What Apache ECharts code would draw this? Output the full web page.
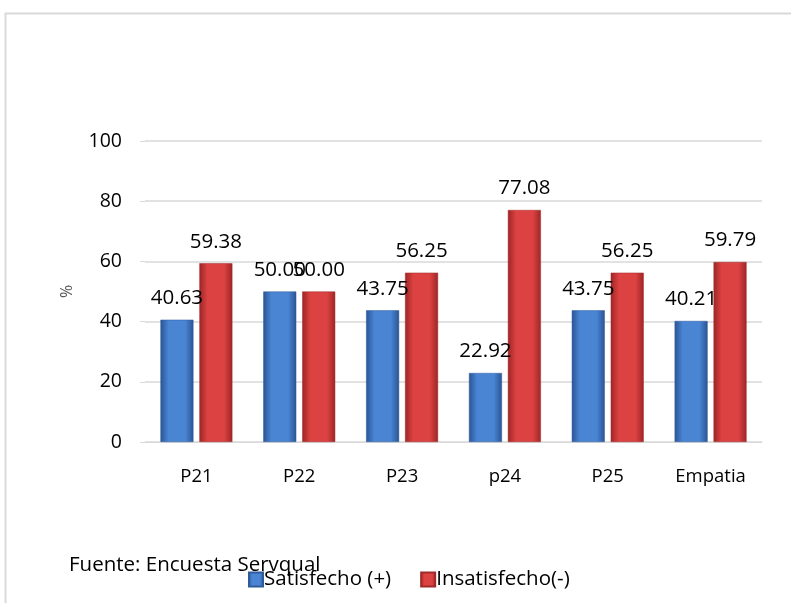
<!DOCTYPE html>
<html>
<head>
<meta charset="utf-8">
<script src="https://cdn.jsdelivr.net/npm/echarts@6/dist/echarts.min.js"></script>
<style>
html,body{margin:0;padding:0;background:#fff;}
#chart{width:791px;height:603px;}
</style>
</head>
<body>
<div id="chart"></div>
<script>
var categories = ['P21', 'P22', 'P23', 'p24', 'P25', 'Empatia'];
var satisfecho = [40.63, 50.00, 43.75, 22.92, 43.75, 40.21];
var insatisfecho = [59.38, 50.00, 56.25, 77.08, 56.25, 59.79];
var seriesNames = ['Satisfecho (+)', 'Insatisfecho(-)'];
var yTicks = [0, 20, 40, 60, 80, 100];

var FONT = '"Open Sans", "Noto Sans", sans-serif';

function grad(edge, mid) {
  return new echarts.graphic.LinearGradient(0, 0, 1, 0, [
    {offset: 0, color: edge},
    {offset: 0.25, color: mid},
    {offset: 0.75, color: mid},
    {offset: 1, color: edge}
  ]);
}

var chart = echarts.init(document.getElementById('chart'), null, {renderer: 'canvas'});
chart.setOption({
  backgroundColor: '#ffffff',
  animation: false,
  graphic: [
    {type: 'rect', shape: {x: 5.5, y: 13.5, width: 800, height: 620},
     style: {fill: 'none', stroke: '#d9d9d9', lineWidth: 2}, silent: true},
    {type: 'text', left: 69, top: 555,
     style: {text: 'Fuente: Encuesta Servqual', font: '20.5px ' + FONT, fill: '#000'}}
  ],
  grid: {left: 145, right: 29, top: 141, bottom: 161, containLabel: false},
  legend: {
    data: seriesNames,
    left: 243, top: 564,
    itemWidth: 14, itemHeight: 14, itemGap: 29,
    icon: 'rect',
    textStyle: {fontFamily: FONT, fontSize: 20.5, color: '#000', padding: [0, 0, 0, -4]}
  },
  xAxis: {
    type: 'category',
    data: categories,
    axisLine: {show: true, lineStyle: {color: '#d9d9d9'}},
    axisTick: {show: false},
    axisLabel: {fontFamily: FONT, fontSize: 18.5, color: '#000', margin: 25}
  },
  yAxis: {
    type: 'value',
    min: 0, max: 100, interval: 20,
    name: '%',
    nameLocation: 'middle',
    nameGap: 70,
    nameRotate: 90,
    nameTextStyle: {fontFamily: FONT, fontSize: 16, color: '#595959'},
    axisLine: {show: false},
    axisTick: {show: true, length: 5, lineStyle: {color: '#d9d9d9'}},
    splitLine: {show: true, lineStyle: {color: '#d9d9d9', width: 1.5}},
    axisLabel: {fontFamily: FONT, fontSize: 19.5, color: '#000', margin: 23,
      formatter: function (v) { return yTicks.indexOf(v) >= 0 ? String(v) : ''; }}
  },
  series: [
    {
      name: seriesNames[0], type: 'bar', data: satisfecho,
      barWidth: 33, barGap: '18%',
      itemStyle: {color: grad('#2a5494', '#4a85d4'), borderColor: '#2f5b9a', borderWidth: 0.5},
      label: {show: true, position: 'top', distance: 11, fontFamily: FONT, fontSize: 20.5, color: '#000',
        formatter: function (p) { return p.value.toFixed(2); }}
    },
    {
      name: seriesNames[1], type: 'bar', data: insatisfecho,
      barWidth: 33,
      itemStyle: {color: grad('#9e2525', '#dc4242'), borderColor: '#a02a2a', borderWidth: 0.5},
      label: {show: true, position: 'top', distance: 11, fontFamily: FONT, fontSize: 20.5, color: '#000',
        formatter: function (p) { return p.value.toFixed(2); }}
    }
  ]
});
</script>
</body>
</html>
